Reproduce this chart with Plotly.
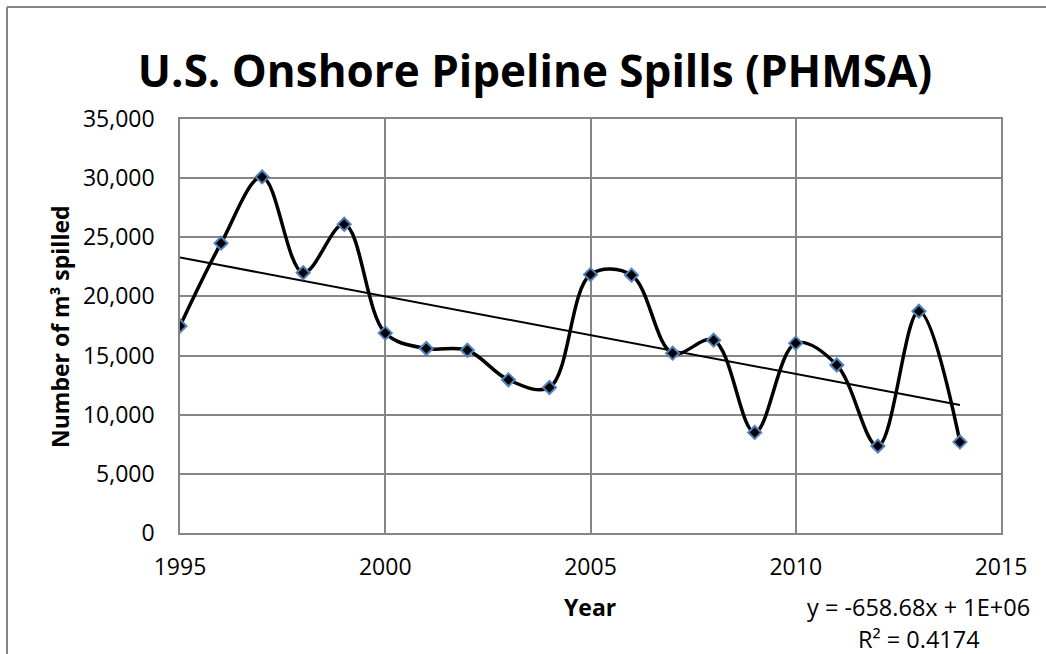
import numpy as np
import plotly.graph_objects as go

years = list(range(1995, 2015))
spilled = [17500, 24500, 30100, 22000, 26100, 16900, 15600, 15450, 12950, 12300,
           21850, 21800, 15200, 16300, 8500, 16050, 14200, 7350, 18750, 7700]

title_text = "U.S. Onshore Pipeline Spills (PHMSA)"
y_title = "Number of m³ spilled"
x_title = "Year"
eq_line1 = "y = -658.68x + 1E+06"
eq_line2 = "R² = 0.4174"

W, H = 1046, 654
L, R, T, B = 180, 45, 119, 121
pw, ph = W - L - R, H - T - B

def px_x(p):
    return (p - L) / pw

def px_y(p):
    return (H - B - p) / ph

slope, intercept = np.polyfit(years, spilled, 1)
trend_x = [years[0], years[-1]]
trend_y = [slope * x + intercept for x in trend_x]

FONT = "Open Sans"
grid = "#868686"

fig = go.Figure()
fig.add_trace(go.Scatter(x=trend_x, y=trend_y, mode="lines",
                         line=dict(color="black", width=2), hoverinfo="skip"))
fig.add_trace(go.Scatter(x=years, y=spilled, mode="lines+markers",
                         line=dict(color="black", width=3.5, shape="spline", smoothing=1.0),
                         marker=dict(symbol="diamond", size=10, color="black",
                                     line=dict(color="#4F81BD", width=2))))

fig.update_layout(
    width=W, height=H, showlegend=False,
    margin=dict(l=L, r=R, t=T, b=B, pad=0),
    paper_bgcolor="white", plot_bgcolor="white",
    font=dict(family=FONT, size=23, color="black"),
    title=dict(text=f"<b>{title_text}</b>", x=535 / W, xanchor="center",
               y=1 - 72 / H, yanchor="middle",
               font=dict(family=FONT, size=44, color="black")),
)
fig.update_xaxes(range=[1995, 2015], tickvals=[1995, 2000, 2005, 2010, 2015],
                 showgrid=True, gridcolor=grid, gridwidth=1.5,
                 showline=True, linecolor=grid, linewidth=1.5, mirror=True,
                 zeroline=False, ticks="", ticklabelstandoff=13,
                 tickfont=dict(family=FONT, size=23))
fig.update_yaxes(range=[0, 35000], tickvals=list(range(0, 35001, 5000)),
                 tickformat=",d",
                 showgrid=True, gridcolor=grid, gridwidth=1.5,
                 showline=True, linecolor=grid, linewidth=1.5, mirror=True,
                 zeroline=False, ticks="", ticklabelstandoff=19,
                 tickfont=dict(family=FONT, size=23))

fig.add_annotation(text=f"<b>{y_title}</b>", textangle=-90, xref="paper", yref="paper",
                   x=px_x(60), y=px_y(327), xanchor="center", yanchor="middle",
                   showarrow=False, font=dict(family=FONT, size=23))
fig.add_annotation(text=f"<b>{x_title}</b>", xref="paper", yref="paper",
                   x=px_x(590), y=px_y(607), xanchor="center", yanchor="middle",
                   showarrow=False, font=dict(family=FONT, size=23))
fig.add_annotation(text=eq_line1, xref="paper", yref="paper",
                   x=px_x(918), y=px_y(607), xanchor="center", yanchor="middle",
                   showarrow=False, font=dict(family=FONT, size=23.5))
fig.add_annotation(text=eq_line2, xref="paper", yref="paper",
                   x=px_x(919), y=px_y(639), xanchor="center", yanchor="middle",
                   showarrow=False, font=dict(family=FONT, size=23.5))

fig.add_shape(type="line", xref="paper", yref="paper", x0=px_x(7), x1=px_x(1060),
              y0=px_y(7), y1=px_y(7), line=dict(color=grid, width=2))
fig.add_shape(type="line", xref="paper", yref="paper", x0=px_x(7), x1=px_x(7),
              y0=px_y(7), y1=px_y(670), line=dict(color=grid, width=2))

fig.write_html("out.html", config={"displayModeBar": False},
               post_script="document.body.style.margin='0';document.body.style.overflow='hidden';")
